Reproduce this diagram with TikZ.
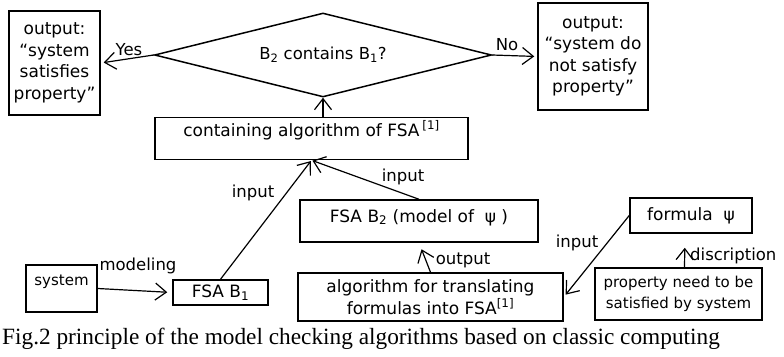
\documentclass[tikz,border=0pt]{standalone}
\usepackage{fontspec}
\setmainfont{DejaVu Sans}
\newfontfamily\capfont{Liberation Serif}
\usetikzlibrary{shapes.geometric,arrows.meta}

\begin{document}
\begin{tikzpicture}[x=1pt, y=-1pt,
    >={Straight Barb[length=11pt,width=17pt]},
    box/.style={draw, line width=1.5pt, inner sep=0pt, align=center,
      font=\fontsize{17}{21.5}\selectfont},
    arr/.style={->, line width=1.2pt, shorten >=3pt},
    lbl/.style={inner sep=0pt, font=\fontsize{16.5}{18}\selectfont}]
    \useasboundingbox (0,0) rectangle (784,356);
    % decision
    \node[draw, diamond, aspect=4, line width=1.5pt, minimum width=337pt, minimum height=84pt,
      inner sep=0pt, font=\fontsize{16.5}{21}\selectfont] (test) at (323,55)
      {B\textsubscript{2} contains B\textsubscript{1}?};
    \node[box, minimum width=91pt, minimum height=104pt] (yesout) at (54.5,63)
      {output:\\“system\\satisfies\\property”};
    \node[box, minimum width=110pt, minimum height=107pt] (noout) at (593,56.5)
      {output:\\“system do\\not satisfy\\property”};
    \node[box, minimum width=313pt, minimum height=42pt, text height=12pt, text depth=17pt]
      (contain) at (311.5,138.5) {containing algorithm of FSA\,\textsuperscript{[1]}};
    \node[box, minimum width=238pt, minimum height=42pt, text height=12pt, text depth=10pt]
      (fsatwo) at (419,221) {FSA B\textsubscript{2} (model of \ ψ )};
    \node[box, minimum width=71pt, minimum height=47pt, text height=12pt, text depth=18pt,
      font=\fontsize{15}{21}\selectfont] (sys) at (61.5,288.5) {system};
    \node[box, minimum width=95pt, minimum height=25pt] (fsaone) at (220.5,292.5)
      {FSA B\textsubscript{1}};
    \node[box, minimum width=265pt, minimum height=48pt] (algo) at (430.5,297)
      {algorithm for translating\\formulas into FSA\textsuperscript{[1]}};
    \node[box, minimum width=122pt, minimum height=35pt] (formula) at (691,215.5)
      {formula \ ψ};
    \node[box, minimum width=167pt, minimum height=52pt, font=\fontsize{15}{21}\selectfont]
      (prop) at (678.5,294) {property need to be\\satisfied by system};

    % connectors
    \draw[arr] (test.west) -- (yesout.east);
    \draw[arr] (test.east) -- (noout.west);
    \draw[arr, shorten >=0pt] (test.south |- contain.north) -- (test.south);
    \draw[arr, shorten >=1pt] (fsaone.north) -- (contain.south);
    \draw[arr, shorten >=1pt] (fsatwo.north) -- (contain.south);
    \draw[arr, shorten >=5pt] (sys.east) -- (fsaone.west);
    \draw[arr, shorten >=7pt] (algo.north) -- (fsatwo.south);
    \draw[arr] (formula.west) -- (algo.east);
    \draw[arr, shorten >=14pt] ([xshift=6pt]prop.north) -- ([xshift=-6pt]formula.south);

    % labels
    \node[lbl] (yes) at (129,50) {Yes};
    \node[lbl] (no) at (507,45) {No};
    \node[lbl] (inone) at (253,193) {input};
    \node[lbl] (intwo) at (403,177) {input};
    \node[lbl] (model) at (138,266) {modeling};
    \node[lbl] (out) at (463,260) {output};
    \node[lbl] (inthree) at (577,243) {input};
    \node[lbl, anchor=west] (descr) at (690,256) {discription};

    \node[anchor=base west, inner sep=0pt, font=\capfont\fontsize{23.3}{24}\selectfont]
      (caption) at (2,344) {Fig.2 principle of the model checking algorithms based on classic computing};
\end{tikzpicture}
\end{document}
